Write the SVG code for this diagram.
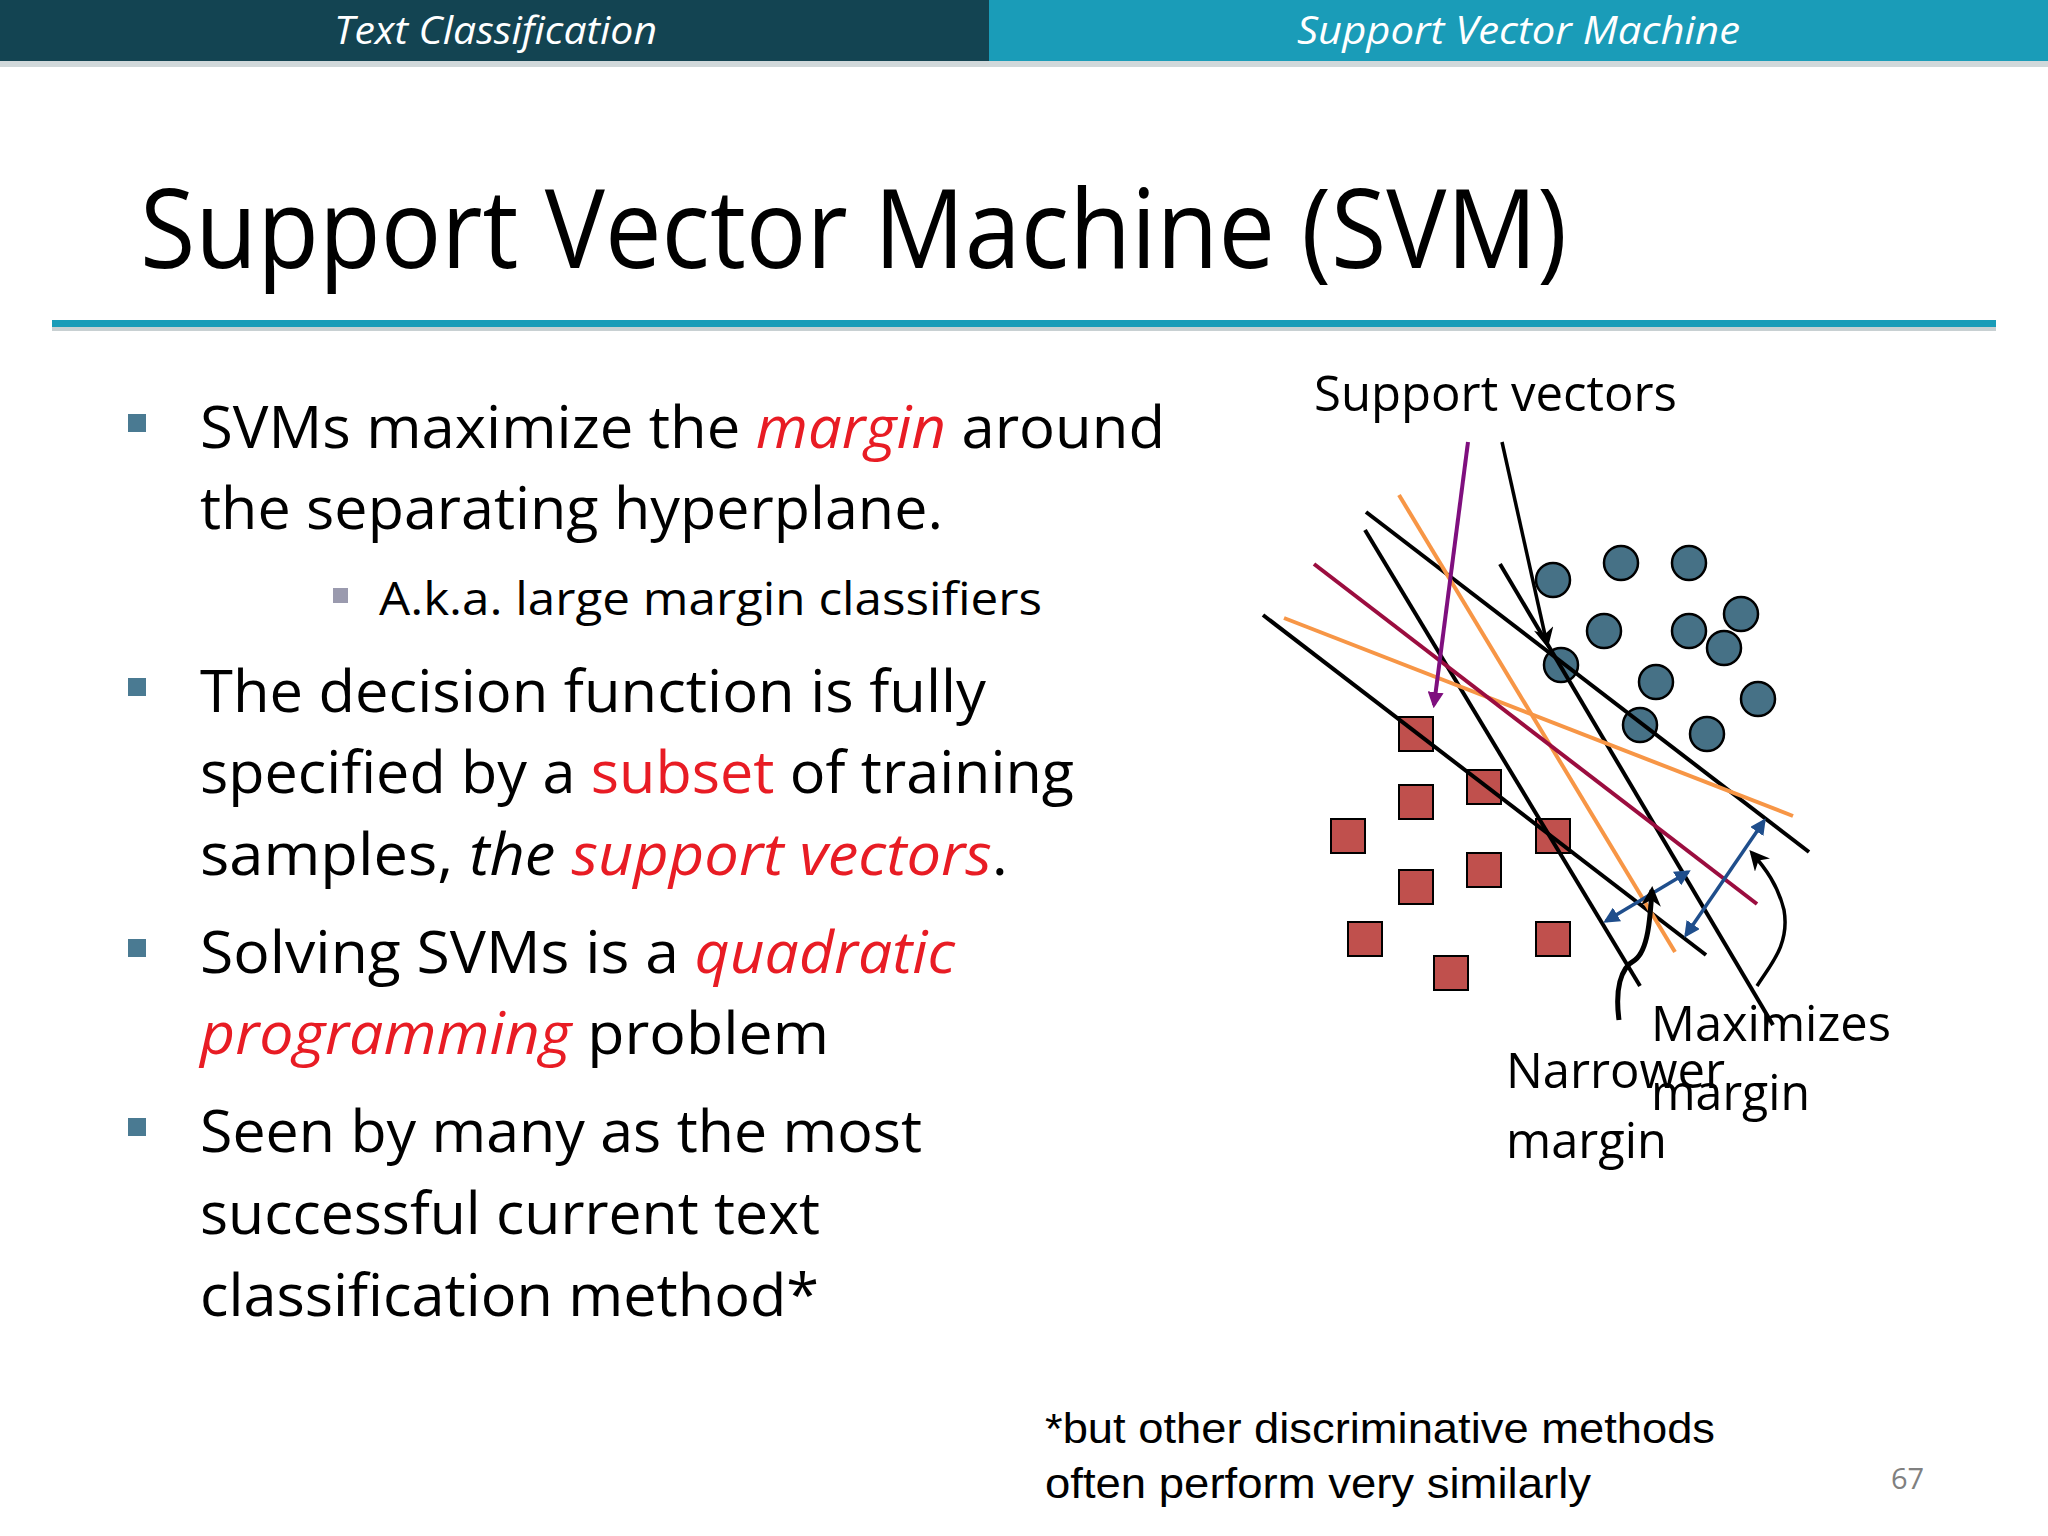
<svg xmlns="http://www.w3.org/2000/svg" width="2048" height="1536" viewBox="0 0 2048 1536">
<style>
.hd{font-family:"Open Sans","DejaVu Sans",sans-serif;font-style:italic;font-size:38px;fill:#fff}
.b{font-family:"Open Sans","DejaVu Sans",sans-serif;font-size:58px;fill:#000}
.s{font-family:"Open Sans","DejaVu Sans",sans-serif;font-size:46px;fill:#000}
.l{font-family:"Open Sans","DejaVu Sans",sans-serif;font-size:50px;fill:#000}
.r{fill:#e81c24}
.i{font-style:italic}
.sq{fill:#c0504d;stroke:#000;stroke-width:2}
.ci{fill:#467186;stroke:#000;stroke-width:2.5}
.k{stroke:#000;stroke-width:4;fill:none}
.o{stroke:#f79646;stroke-width:4;fill:none}
.bl{stroke:#1f4e8c;stroke-width:3.5;fill:none}
</style>
<defs>
<marker id="ak" markerWidth="10" markerHeight="10" refX="8" refY="5" orient="auto" markerUnits="userSpaceOnUse" viewBox="0 0 10 10"><path d="M0,0 L10,5 L0,10 z" fill="#000"/></marker>
<marker id="ap" viewBox="0 0 10 10" refX="8" refY="5" markerWidth="16" markerHeight="16" orient="auto" markerUnits="userSpaceOnUse"><path d="M0,0 L10,5 L0,10 z" fill="#7f0f7e"/></marker>
<marker id="ab" viewBox="0 0 10 10" refX="8" refY="5" markerWidth="16" markerHeight="16" orient="auto-start-reverse" markerUnits="userSpaceOnUse"><path d="M0,0 L10,5 L0,10 z" fill="#1f4e8c"/></marker>
<marker id="ac" viewBox="0 0 10 10" refX="8" refY="5" markerWidth="20" markerHeight="20" orient="auto" markerUnits="userSpaceOnUse"><path d="M0,0 L10,5 L0,10 L3,5 z" fill="#000"/></marker>
</defs>
<rect width="2048" height="1536" fill="#fff"/>
<g id="header">
<rect x="0" y="0" width="989" height="61" fill="#134452"/>
<rect x="989" y="0" width="1059" height="61" fill="#1a9cb8"/>
<rect x="0" y="61" width="2048" height="6" fill="#d0d8da"/>
<text class="hd" x="334" y="44" textLength="323" lengthAdjust="spacingAndGlyphs">Text Classification</text>
<text class="hd" x="1297" y="44" textLength="443" lengthAdjust="spacingAndGlyphs">Support Vector Machine</text>
</g>
<g id="title">
<text x="140" y="268" font-family="'Open Sans','DejaVu Sans',sans-serif" font-size="110" textLength="1427" lengthAdjust="spacingAndGlyphs">Support Vector Machine (SVM)</text>
<rect x="52" y="320" width="1944" height="7" fill="#1a9cb8"/>
<rect x="52" y="327" width="1944" height="4" fill="#c8d0d2"/>
</g>
<g id="bullets">
<rect x="128" y="414" width="18" height="18" fill="#4a7a92"/>
<rect x="128" y="678" width="18" height="18" fill="#4a7a92"/>
<rect x="128" y="939" width="18" height="18" fill="#4a7a92"/>
<rect x="128" y="1118" width="18" height="18" fill="#4a7a92"/>
<rect x="333" y="588" width="15" height="15" fill="#9a9aae"/>
<text class="b" x="200" y="448" textLength="965" lengthAdjust="spacingAndGlyphs">SVMs maximize the <tspan class="r i">margin</tspan> around</text>
<text class="b" x="200" y="529" textLength="743" lengthAdjust="spacingAndGlyphs">the separating hyperplane.</text>
<text class="s" x="379" y="615" textLength="663" lengthAdjust="spacingAndGlyphs">A.k.a. large margin classifiers</text>
<text class="b" x="200" y="712" textLength="786" lengthAdjust="spacingAndGlyphs">The decision function is fully</text>
<text class="b" x="200" y="793" textLength="874" lengthAdjust="spacingAndGlyphs">specified by a <tspan class="r">subset</tspan> of training</text>
<text class="b" x="200" y="875" textLength="808" lengthAdjust="spacingAndGlyphs">samples, <tspan class="i">the </tspan><tspan class="r i">support vectors</tspan>.</text>
<text class="b" x="200" y="973" textLength="755" lengthAdjust="spacingAndGlyphs">Solving SVMs is a <tspan class="r i">quadratic</tspan></text>
<text class="b" x="200" y="1054" textLength="629" lengthAdjust="spacingAndGlyphs"><tspan class="r i">programming</tspan> problem</text>
<text class="b" x="200" y="1152" textLength="722" lengthAdjust="spacingAndGlyphs">Seen by many as the most</text>
<text class="b" x="200" y="1234" textLength="620" lengthAdjust="spacingAndGlyphs">successful current text</text>
<text class="b" x="200" y="1316" textLength="619" lengthAdjust="spacingAndGlyphs">classification method*</text>
</g>
<g id="points">
<rect class="sq" x="1399" y="717" width="34" height="34"/>
<rect class="sq" x="1467" y="770" width="34" height="34"/>
<rect class="sq" x="1399" y="785" width="34" height="34"/>
<rect class="sq" x="1331" y="819" width="34" height="34"/>
<rect class="sq" x="1536" y="819" width="34" height="34"/>
<rect class="sq" x="1467" y="853" width="34" height="34"/>
<rect class="sq" x="1399" y="870" width="34" height="34"/>
<rect class="sq" x="1348" y="922" width="34" height="34"/>
<rect class="sq" x="1536" y="922" width="34" height="34"/>
<rect class="sq" x="1434" y="956" width="34" height="34"/>
<circle class="ci" cx="1553" cy="580" r="17"/>
<circle class="ci" cx="1621" cy="563" r="17"/>
<circle class="ci" cx="1689" cy="563" r="17"/>
<circle class="ci" cx="1741" cy="614" r="17"/>
<circle class="ci" cx="1604" cy="631" r="17"/>
<circle class="ci" cx="1689" cy="631" r="17"/>
<circle class="ci" cx="1724" cy="648" r="17"/>
<circle class="ci" cx="1561" cy="665" r="17"/>
<circle class="ci" cx="1656" cy="682" r="17"/>
<circle class="ci" cx="1758" cy="699" r="17"/>
<circle class="ci" cx="1640" cy="725" r="17"/>
<circle class="ci" cx="1707" cy="734" r="17"/>
</g>
<g id="connectors">
<line class="k" x1="1366" y1="512" x2="1809" y2="852"/>
<line class="k" x1="1263" y1="615" x2="1706" y2="955"/>
<line class="k" x1="1365" y1="530" x2="1640" y2="986"/>
<line class="k" x1="1500" y1="564" x2="1773" y2="1025"/>
<line class="o" x1="1399" y1="495" x2="1675" y2="952"/>
<line class="o" x1="1284" y1="618" x2="1793" y2="816"/>
<line x1="1314" y1="564" x2="1757" y2="904" stroke="#9b0d3f" stroke-width="4"/>
<line x1="1468" y1="442" x2="1434" y2="705" stroke="#7f0f7e" stroke-width="4" marker-end="url(#ap)"/>
<line x1="1502" y1="442" x2="1547" y2="644" stroke="#000" stroke-width="3.5" marker-end="url(#ac)"/>
<line class="bl" x1="1606" y1="921" x2="1688" y2="872" marker-start="url(#ab)" marker-end="url(#ab)"/>
<line class="bl" x1="1686" y1="935" x2="1764" y2="821" marker-start="url(#ab)" marker-end="url(#ab)"/>
<path d="M1619,1020 C1615,990 1620,968 1635,960 C1648,950 1650,920 1652,890" stroke="#000" stroke-width="5" fill="none" marker-end="url(#ac)"/>
<path d="M1757,986 C1770,965 1790,945 1784,910 C1778,885 1765,868 1752,853" stroke="#000" stroke-width="3.5" fill="none" marker-end="url(#ac)"/>
</g>
<g id="labels">
<text class="l" x="1314" y="411" textLength="363" lengthAdjust="spacingAndGlyphs">Support vectors</text>
<text class="l" x="1651" y="1041" textLength="240" lengthAdjust="spacingAndGlyphs">Maximizes</text>
<text class="l" x="1651" y="1110" textLength="159" lengthAdjust="spacingAndGlyphs">margin</text>
<text class="l" x="1506" y="1088" textLength="219" lengthAdjust="spacingAndGlyphs">Narrower</text>
<text class="l" x="1506" y="1158" textLength="161" lengthAdjust="spacingAndGlyphs">margin</text>
</g>
<g id="footnote">
<text x="1045" y="1443" font-family="'Liberation Sans',Arial,sans-serif" font-size="43" textLength="670" lengthAdjust="spacingAndGlyphs">*but other discriminative methods</text>
<text x="1045" y="1498" font-family="'Liberation Sans',Arial,sans-serif" font-size="43" textLength="546" lengthAdjust="spacingAndGlyphs">often perform very similarly</text>
<text x="1891" y="1489" font-family="'Open Sans',sans-serif" font-size="29" fill="#808080">67</text>
</g>
</svg>
